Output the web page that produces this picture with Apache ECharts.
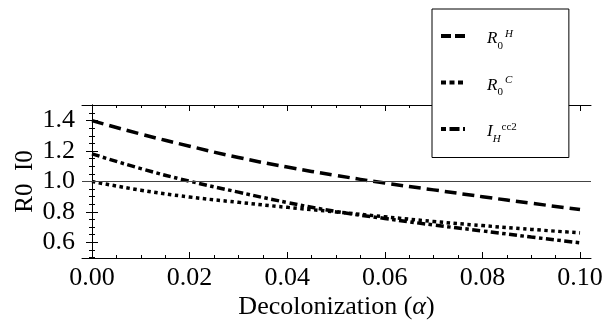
<!DOCTYPE html>
<html>
<head>
<meta charset="utf-8">
<script src="https://cdn.jsdelivr.net/npm/echarts@6/dist/echarts.min.js"></script>
<style>
  html, body { margin: 0; padding: 0; background: #fff; }
  #chart { width: 606px; height: 333px; }
</style>
</head>
<body>
<div id="chart"></div>
<script>
// decolonization rate alpha
const alpha = [0, 0.01, 0.02, 0.03, 0.04, 0.05, 0.06, 0.07, 0.08, 0.09, 0.10]
// R0^H (long dashes)
const r0H = [1.40, 1.312, 1.232, 1.158, 1.095, 1.040, 0.990, 0.945, 0.900, 0.857, 0.816]
// R0^C (dots)
const r0C = [1.00, 0.943, 0.898, 0.863, 0.830, 0.800, 0.768, 0.737, 0.710, 0.685, 0.662]
// I_H^cc2 (dash-dot)
const iHcc2 = [1.182, 1.085, 1.002, 0.930, 0.862, 0.803, 0.757, 0.714, 0.675, 0.635, 0.597]

const xTicks = [0, 0.02, 0.04, 0.06, 0.08, 0.10]
const xMinor = [0.005, 0.01, 0.015, 0.025, 0.03, 0.035, 0.045, 0.05, 0.055, 0.065, 0.07, 0.075, 0.085, 0.09, 0.095]
const yTicks = [0.6, 0.8, 1.0, 1.2, 1.4]
const yMinor = [0.5, 0.55, 0.65, 0.7, 0.75, 0.85, 0.9, 0.95, 1.05, 1.1, 1.15, 1.25, 1.3, 1.35, 1.45, 1.5]

const X_MIN = -0.00205, X_MAX = 0.10225
const Y_MIN = 0.497, Y_MAX = 1.503

const FONT = 'Liberation Serif'
const pairs = ys => alpha.map((a, i) => [a, ys[i]])

const chart = echarts.init(document.getElementById('chart'))

// frame axes: major + minor ticks on each side, all pointing inward
const xAxisBase = { type: 'value', min: X_MIN, max: X_MAX, splitLine: { show: false } }
const yAxisBase = { type: 'value', min: Y_MIN, max: Y_MAX, splitLine: { show: false } }
const lineBlack = { show: true, lineStyle: { color: '#000', width: 1 } }

// legend text pieces: all tokens hang from the line top, offsets via padding
const tok = (size, top, extra) => ({ fontFamily: FONT, fontSize: size, verticalAlign: 'top', ...extra, padding: top })

const option = {
  animation: false,
  backgroundColor: '#fff',
  grid: { left: 82, right: 15, top: 105, bottom: 75 },
  legend: {
    orient: 'vertical',
    left: 432, top: 9,
    padding: [17, 52, 11, 7],
    itemWidth: 24, itemHeight: 14, itemGap: 19,
    backgroundColor: '#fff',
    borderColor: '#000', borderWidth: 1,
    itemStyle: { color: 'transparent', borderColor: 'transparent', borderWidth: 0 },
    data: [
      { name: 'R0H', lineStyle: { color: '#000', width: 4, type: [10, 4] } },
      { name: 'R0C', lineStyle: { color: '#000', width: 4, type: [5, 3.5] } },
      { name: 'IHcc2', lineStyle: { color: '#000', width: 4, type: [5, 3.5, 10, 3.5] } },
    ],
    formatter: name => ({
      R0H: '{it|R}{sub|0}{sup|H}',
      R0C: '{it|R}{sub|0}{sup|C}',
      IHcc2: '{it|I}{subi|H}{supr|cc2}',
    })[name],
    textStyle: {
      fontFamily: FONT, color: '#000',
      rich: {
        it: tok(17, [4.5, 0, 6, 17], { fontStyle: 'italic', lineHeight: 20 }),
        sub: tok(11, [14.5, 0, 0, 0], { lineHeight: 12 }),
        subi: tok(11, [14.5, 0, 0, 0], { lineHeight: 12, fontStyle: 'italic' }),
        sup: tok(11, [2.5, 0, 0, 2], { lineHeight: 12, fontStyle: 'italic' }),
        supr: tok(11, [2.5, 0, 0, 1], { lineHeight: 12 }),
      },
    },
  },
  xAxis: [
    {
      ...xAxisBase, position: 'bottom',
      axisLine: lineBlack,
      axisTick: { inside: true, length: 6, customValues: xTicks, lineStyle: { color: '#000' } },
      axisLabel: { customValues: xTicks, formatter: v => v.toFixed(2), fontFamily: FONT, fontSize: 26, color: '#000', margin: 7 },
      name: 'Decolonization ({a|\u03b1})',
      nameLocation: 'middle', nameGap: 36, nameMoveOverlap: false,
      nameTextStyle: { fontFamily: FONT, fontSize: 26, color: '#000',
        rich: { a: { fontFamily: FONT, fontSize: 26, fontStyle: 'italic', color: '#000' } } },
    },
    {
      ...xAxisBase, position: 'bottom',
      axisLine: { show: false },
      axisTick: { inside: true, length: 3, customValues: xMinor, lineStyle: { color: '#000' } },
      axisLabel: { show: false },
    },
    {
      ...xAxisBase, position: 'top',
      axisLine: lineBlack,
      axisTick: { inside: true, length: 6, customValues: xTicks, lineStyle: { color: '#000' } },
      axisLabel: { show: false },
    },
    {
      ...xAxisBase, position: 'top',
      axisLine: { show: false },
      axisTick: { inside: true, length: 3, customValues: xMinor, lineStyle: { color: '#000' } },
      axisLabel: { show: false },
    },
  ],
  yAxis: [
    {
      ...yAxisBase, position: 'left',
      axisLine: lineBlack,
      axisTick: { inside: true, length: 6, customValues: yTicks, lineStyle: { color: '#000' } },
      axisLabel: { customValues: yTicks, formatter: v => v.toFixed(1), fontFamily: FONT, fontSize: 26, color: '#000', margin: 7 },
      name: 'R0  I0',
      nameLocation: 'middle', nameGap: 44, nameMoveOverlap: false,
      nameTextStyle: { fontFamily: FONT, fontSize: 25, color: '#000' },
    },
    {
      ...yAxisBase, position: 'left',
      axisLine: { show: false },
      axisTick: { inside: true, length: 3, customValues: yMinor, lineStyle: { color: '#000' } },
      axisLabel: { show: false },
    },
    {
      ...yAxisBase, position: 'right',
      axisLine: lineBlack,
      axisTick: { inside: true, length: 6, customValues: yTicks, lineStyle: { color: '#000' } },
      axisLabel: { show: false },
    },
    {
      ...yAxisBase, position: 'right',
      axisLine: { show: false },
      axisTick: { inside: true, length: 3, customValues: yMinor, lineStyle: { color: '#000' } },
      axisLabel: { show: false },
    },
  ],
  series: [
    {
      name: 'R0H', type: 'line', data: pairs(r0H), smooth: true, symbol: 'none',
      lineStyle: { color: '#000', width: 3.5, type: [12, 6], cap: 'butt' },
      itemStyle: { color: '#000' },
      markLine: {
        silent: true, symbol: 'none', label: { show: false },
        lineStyle: { color: '#444', width: 1, type: 'solid' },
        data: [{ yAxis: 1 }],
      },
      z: 3,
    },
    {
      name: 'R0C', type: 'line', data: pairs(r0C), smooth: true, symbol: 'none',
      lineStyle: { color: '#000', width: 3.5, type: [3.5, 3.5], cap: 'butt' },
      itemStyle: { color: '#000' },
      z: 3,
    },
    {
      name: 'IHcc2', type: 'line', data: pairs(iHcc2), smooth: true, symbol: 'none',
      lineStyle: { color: '#000', width: 3.5, type: [8, 3.5, 3.5, 3.5], cap: 'butt' },
      itemStyle: { color: '#000' },
      z: 3,
    },
  ],
}

chart.setOption(option)
</script>
</body>
</html>
